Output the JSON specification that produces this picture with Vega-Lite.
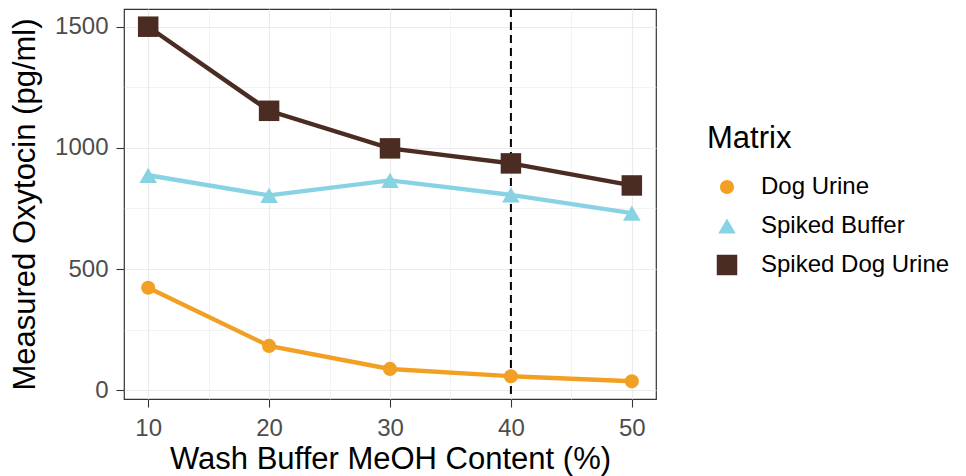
{
  "$schema": "https://vega.github.io/schema/vega-lite/v6.json",
  "autosize": {"type": "none"},
  "width": 532,
  "height": 390,
  "padding": {"left": 124, "top": 9, "right": 310, "bottom": 77},
  "background": "white",
  "config": {
    "font": "Liberation Sans",
    "view": {"stroke": "#333333", "strokeWidth": 1.2},
    "axis": {
      "domain": false,
      "gridColor": "#EBEBEB",
      "tickColor": "#333333",
      "tickSize": 8,
      "tickWidth": 1.1,
      "labelColor": "#4D4D4D",
      "labelFont": "Liberation Sans",
      "labelFontSize": 24,
      "titleFont": "Liberation Sans",
      "titleFontSize": 31,
      "titleFontWeight": "normal",
      "titleColor": "#000000"
    },
    "legend": {
      "orient": "none",
      "legendX": 583,
      "legendY": 115,
      "titleFont": "Liberation Sans",
      "titleFontSize": 31,
      "titleFontWeight": "normal",
      "titleColor": "#000000",
      "titlePadding": 20,
      "labelFont": "Liberation Sans",
      "labelFontSize": 24,
      "labelColor": "#000000",
      "labelLimit": 300,
      "labelOffset": 22,
      "symbolOffset": 8,
      "symbolStrokeWidth": 0,
      "rowPadding": 15
    }
  },
  "datasets": {
    "oxytocin": [
      {"meoh": 10, "matrix": "Dog Urine", "pgml": 423},
      {"meoh": 20, "matrix": "Dog Urine", "pgml": 183},
      {"meoh": 30, "matrix": "Dog Urine", "pgml": 88},
      {"meoh": 40, "matrix": "Dog Urine", "pgml": 58},
      {"meoh": 50, "matrix": "Dog Urine", "pgml": 37},
      {"meoh": 10, "matrix": "Spiked Buffer", "pgml": 887},
      {"meoh": 20, "matrix": "Spiked Buffer", "pgml": 804},
      {"meoh": 30, "matrix": "Spiked Buffer", "pgml": 866},
      {"meoh": 40, "matrix": "Spiked Buffer", "pgml": 806},
      {"meoh": 50, "matrix": "Spiked Buffer", "pgml": 731},
      {"meoh": 10, "matrix": "Spiked Dog Urine", "pgml": 1500},
      {"meoh": 20, "matrix": "Spiked Dog Urine", "pgml": 1153},
      {"meoh": 30, "matrix": "Spiked Dog Urine", "pgml": 998},
      {"meoh": 40, "matrix": "Spiked Dog Urine", "pgml": 936},
      {"meoh": 50, "matrix": "Spiked Dog Urine", "pgml": 845}
    ],
    "cutoff": [{"meoh": 40}]
  },
  "encoding": {
    "x": {
      "field": "meoh",
      "type": "quantitative",
      "scale": {"domain": [8, 52], "nice": false, "zero": false},
      "axis": {
        "title": "Wash Buffer MeOH Content (%)",
        "values": [10, 15, 20, 25, 30, 35, 40, 45, 50],
        "labelExpr": "datum.value % 10 === 0 ? datum.label : ''",
        "tickOpacity": {"condition": {"test": "datum.value % 10 === 0", "value": 1}, "value": 0},
        "gridWidth": {"condition": {"test": "datum.value % 10 === 0", "value": 1.2}, "value": 0.6},
        "labelPadding": 9,
        "titlePadding": 4
      }
    },
    "y": {
      "field": "pgml",
      "type": "quantitative",
      "scale": {"domain": [-36, 1573], "nice": false, "zero": false},
      "axis": {
        "title": "Measured Oxytocin (pg/ml)",
        "values": [0, 250, 500, 750, 1000, 1250, 1500],
        "labelExpr": "datum.value % 500 === 0 ? datum.label : ''",
        "tickOpacity": {"condition": {"test": "datum.value % 500 === 0", "value": 1}, "value": 0},
        "gridWidth": {"condition": {"test": "datum.value % 500 === 0", "value": 1.2}, "value": 0.6},
        "format": "d",
        "labelPadding": 8,
        "titlePadding": 13
      }
    }
  },
  "layer": [
    {
      "data": {"name": "cutoff"},
      "mark": {"type": "rule", "color": "#000000", "strokeWidth": 2, "strokeDash": [8, 5]},
      "encoding": {"x": {"field": "meoh", "type": "quantitative"}, "y": null}
    },
    {
      "data": {"name": "oxytocin"},
      "mark": {"type": "line", "strokeWidth": 4.4},
      "encoding": {
        "color": {
          "field": "matrix",
          "type": "nominal",
          "scale": {"domain": ["Dog Urine", "Spiked Buffer", "Spiked Dog Urine"], "range": ["#F2A024", "#88D3E3", "#4A2C22"]},
          "legend": {"title": "Matrix"}
        }
      }
    },
    {
      "data": {"name": "oxytocin"},
      "mark": {"type": "point", "filled": true, "opacity": 1, "strokeWidth": 0},
      "encoding": {
        "color": {
          "field": "matrix",
          "type": "nominal",
          "scale": {"domain": ["Dog Urine", "Spiked Buffer", "Spiked Dog Urine"], "range": ["#F2A024", "#88D3E3", "#4A2C22"]},
          "legend": {"title": "Matrix"}
        },
        "shape": {
          "field": "matrix",
          "type": "nominal",
          "scale": {"domain": ["Dog Urine", "Spiked Buffer", "Spiked Dog Urine"], "range": ["circle", "triangle-up", "square"]},
          "legend": null
        },
        "size": {
          "field": "matrix",
          "type": "nominal",
          "scale": {"domain": ["Dog Urine", "Spiked Buffer", "Spiked Dog Urine"], "range": [200, 420, 240]},
          "legend": null
        }
      }
    }
  ]
}
